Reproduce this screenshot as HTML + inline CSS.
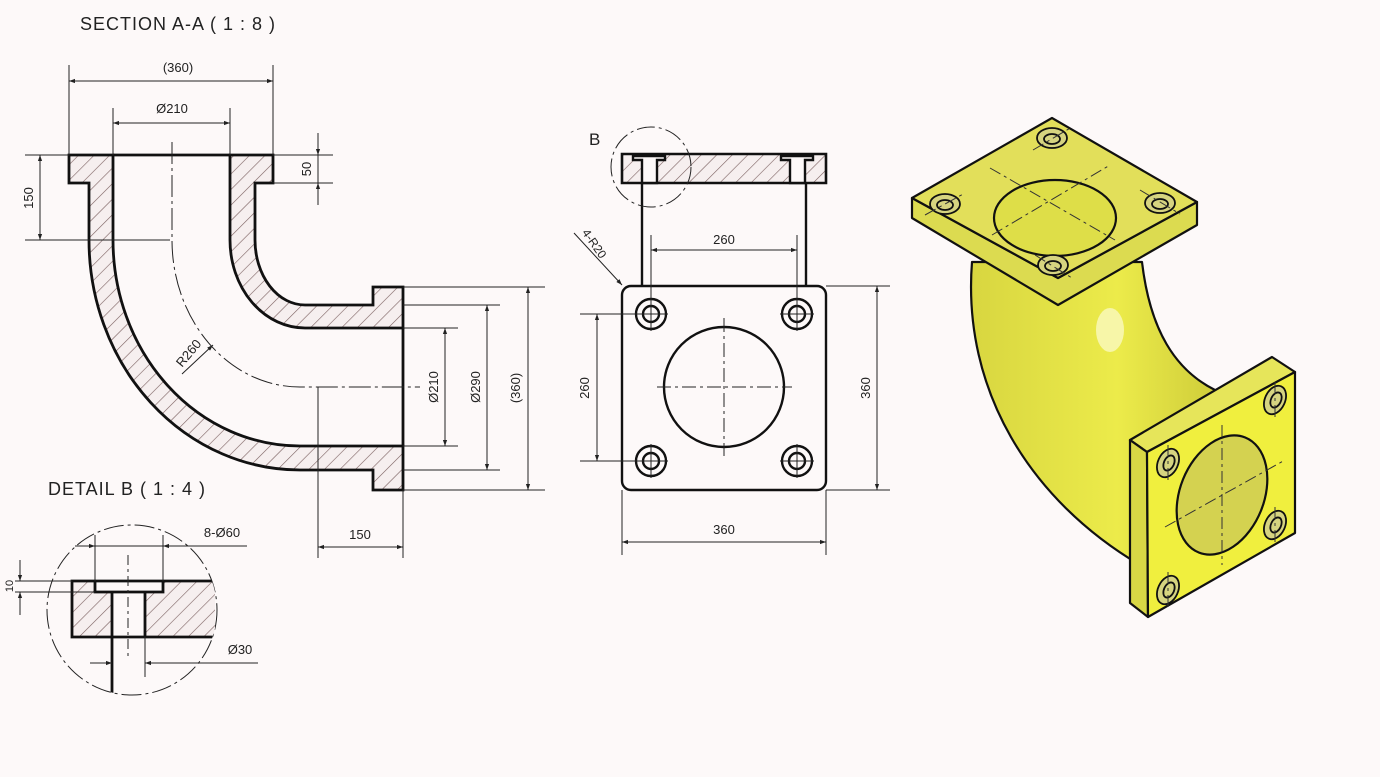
<!DOCTYPE html>
<html><head><meta charset="utf-8"><style>
html,body{margin:0;padding:0;background:#fdf9f9;}
svg{display:block}
text{font-family:"Liberation Sans",sans-serif;fill:#222}
</style></head><body>
<svg width="1380" height="777" viewBox="0 0 1380 777" xmlns="http://www.w3.org/2000/svg">
<defs>
<pattern id="h" patternUnits="userSpaceOnUse" width="11" height="11" patternTransform="rotate(45)">
<rect width="11" height="11" fill="#f6efef"/>
<line x1="0" y1="0" x2="0" y2="11" stroke="#7a5f5f" stroke-width="1.2"/>
</pattern>
<marker id="a" viewBox="0 0 10 10" refX="10" refY="5" markerWidth="9" markerHeight="6" orient="auto-start-reverse" markerUnits="userSpaceOnUse"><path d="M0,1.5 L10,5 L0,8.5z" fill="#222"/></marker>
<linearGradient id="y" x1="0" y1="0" x2="1" y2="0"><stop offset="0" stop-color="#d8d640"/><stop offset="0.6" stop-color="#eceb4a"/><stop offset="1" stop-color="#cfcd3a"/></linearGradient>
</defs>
<rect width="1380" height="777" fill="#fdf9f9"/>

<text x="80" y="30" font-size="18" letter-spacing="1">SECTION A-A ( 1 : 8 )</text>
<text x="48" y="495" font-size="18" letter-spacing="1">DETAIL B ( 1 : 4 )</text>

<!-- Section A-A -->
<g stroke="#111" stroke-width="2.8" stroke-linejoin="miter">
<path d="M69,155 L113,155 L113,240 A187,206 0 0 0 300,446 L403,446 L403,490 L373,490 L373,470 L300,470 A211,230 0 0 1 89,240 L89,183 L69,183 Z" fill="url(#h)"/>
<path d="M230,155 L273,155 L273,183 L255,183 L255,240 A50,65 0 0 0 305,305 L373,305 L373,287 L403,287 L403,328 L305,328 A75,88 0 0 1 230,240 Z" fill="url(#h)"/>
<line x1="113" y1="155" x2="230" y2="155"/>
<line x1="403" y1="328" x2="403" y2="446"/>
</g>
<g stroke="#222" stroke-width="1" fill="none">
<path d="M172,142 L172,240 A128,147 0 0 0 300,387 L420,387" stroke-dasharray="22,4,3,4"/>
<!-- dims -->
<line x1="69" y1="65" x2="69" y2="155"/><line x1="273" y1="65" x2="273" y2="155"/>
<line x1="69" y1="81" x2="273" y2="81" marker-start="url(#a)" marker-end="url(#a)"/>
<line x1="113" y1="108" x2="113" y2="155"/><line x1="230" y1="108" x2="230" y2="155"/>
<line x1="113" y1="123" x2="230" y2="123" marker-start="url(#a)" marker-end="url(#a)"/>
<line x1="25" y1="155" x2="69" y2="155"/><line x1="25" y1="240" x2="170" y2="240"/>
<line x1="40" y1="155" x2="40" y2="240" marker-start="url(#a)" marker-end="url(#a)"/>
<line x1="273" y1="155" x2="333" y2="155"/><line x1="273" y1="183" x2="333" y2="183"/>
<line x1="318" y1="133" x2="318" y2="155" marker-end="url(#a)"/><line x1="318" y1="205" x2="318" y2="183" marker-end="url(#a)"/>
<line x1="318" y1="155" x2="318" y2="183"/>
<line x1="403" y1="287" x2="545" y2="287"/><line x1="403" y1="490" x2="545" y2="490"/>
<line x1="403" y1="305" x2="500" y2="305"/><line x1="403" y1="470" x2="500" y2="470"/>
<line x1="403" y1="328" x2="458" y2="328"/><line x1="403" y1="446" x2="458" y2="446"/>
<line x1="445" y1="328" x2="445" y2="446" marker-start="url(#a)" marker-end="url(#a)"/>
<line x1="487" y1="305" x2="487" y2="470" marker-start="url(#a)" marker-end="url(#a)"/>
<line x1="528" y1="287" x2="528" y2="490" marker-start="url(#a)" marker-end="url(#a)"/>
<line x1="318" y1="387" x2="318" y2="558"/><line x1="403" y1="490" x2="403" y2="558"/>
<line x1="318" y1="547" x2="403" y2="547" marker-start="url(#a)" marker-end="url(#a)"/>
<line x1="182" y1="374" x2="213" y2="345" marker-end="url(#a)"/>
</g>
<g font-size="13">
<text x="178" y="72" text-anchor="middle">(360)</text>
<text x="172" y="113" text-anchor="middle">Ø210</text>
<text transform="translate(33,198) rotate(-90)" text-anchor="middle">150</text>
<text transform="translate(311,169) rotate(-90)" text-anchor="middle">50</text>
<text transform="translate(438,387) rotate(-90)" text-anchor="middle">Ø210</text>
<text transform="translate(480,387) rotate(-90)" text-anchor="middle">Ø290</text>
<text transform="translate(520,388) rotate(-90)" text-anchor="middle">(360)</text>
<text x="360" y="539" text-anchor="middle">150</text>
<text transform="translate(192,356) rotate(-50)" text-anchor="middle">R260</text>
</g>

<!-- Detail B -->
<circle cx="132" cy="610" r="85" fill="none" stroke="#222" stroke-width="1" stroke-dasharray="20,4,3,4"/>
<clipPath id="cb"><circle cx="132" cy="610" r="85"/></clipPath>
<g clip-path="url(#cb)">
<path d="M72,581 L95,581 L95,592 L112,592 L112,637 L72,637Z" fill="url(#h)"/>
<path d="M163,581 L215,581 L215,637 L145,637 L145,592 L163,592Z" fill="url(#h)"/>
<g stroke="#111" stroke-width="2.8" fill="none">
<path d="M215,581 L72,581 L72,637 L215,637"/>
<path d="M95,581 L95,592 L163,592 L163,581"/>
<path d="M112,592 L112,700 M145,592 L145,637"/>
</g>
</g>
<g stroke="#222" stroke-width="1" fill="none">
<line x1="128" y1="555" x2="128" y2="660" stroke-dasharray="10,4,3,4"/>
<line x1="95" y1="535" x2="95" y2="581"/><line x1="163" y1="535" x2="163" y2="581"/>
<line x1="75" y1="546" x2="95" y2="546" marker-end="url(#a)"/><line x1="247" y1="546" x2="163" y2="546" marker-end="url(#a)"/>
<line x1="95" y1="546" x2="163" y2="546"/>
<line x1="145" y1="637" x2="145" y2="677"/>
<line x1="90" y1="663" x2="112" y2="663" marker-end="url(#a)"/><line x1="258" y1="663" x2="145" y2="663" marker-end="url(#a)"/>
<line x1="15" y1="581" x2="72" y2="581"/><line x1="15" y1="592" x2="95" y2="592"/>
<line x1="20" y1="560" x2="20" y2="581" marker-end="url(#a)"/><line x1="20" y1="615" x2="20" y2="592" marker-end="url(#a)"/>
</g>
<g font-size="13">
<text x="222" y="537" text-anchor="middle">8-Ø60</text>
<text x="240" y="654" text-anchor="middle">Ø30</text>
<text transform="translate(13,586) rotate(-90)" text-anchor="middle" font-size="11">10</text>
</g>

<!-- Middle view -->
<text x="589" y="145" font-size="17">B</text>
<path d="M622,154 L826,154 L826,183 L622,183Z" fill="url(#h)" stroke="#111" stroke-width="2.6"/>
<g stroke="#111" stroke-width="2.4" fill="#fdf9f9">
<path d="M633,156 L665,156 L665,160 L657,160 L657,183 L642,183 L642,160 L633,160Z"/>
<path d="M781,156 L813,156 L813,160 L805,160 L805,183 L790,183 L790,160 L781,160Z"/>
</g>
<g stroke="#111" stroke-width="2.4" fill="none">
<line x1="642" y1="183" x2="642" y2="286"/><line x1="806" y1="183" x2="806" y2="286"/>
<rect x="622" y="286" width="204" height="204" rx="9"/>
<circle cx="724" cy="387" r="60"/>
<circle cx="651" cy="314" r="15"/><circle cx="651" cy="314" r="8"/>
<circle cx="797" cy="314" r="15"/><circle cx="797" cy="314" r="8"/>
<circle cx="651" cy="461" r="15"/><circle cx="651" cy="461" r="8"/>
<circle cx="797" cy="461" r="15"/><circle cx="797" cy="461" r="8"/>
</g>
<g stroke="#222" stroke-width="1" fill="none">
<circle cx="651" cy="167" r="40" stroke-dasharray="18,4,3,4"/>
<line x1="655" y1="318" x2="655" y2="318"/>
<path d="M651,297 V331 M634,314 H668 M797,297 V331 M780,314 H814 M651,444 V478 M634,461 H668 M797,444 V478 M780,461 H814"/>
<path d="M724,318 V456 M657,387 H792" stroke-dasharray="14,4,3,4"/>
<line x1="651" y1="235" x2="651" y2="300"/><line x1="797" y1="235" x2="797" y2="300"/>
<line x1="651" y1="250" x2="797" y2="250" marker-start="url(#a)" marker-end="url(#a)"/>
<line x1="580" y1="314" x2="640" y2="314"/><line x1="580" y1="461" x2="640" y2="461"/>
<line x1="597" y1="314" x2="597" y2="461" marker-start="url(#a)" marker-end="url(#a)"/>
<line x1="826" y1="286" x2="890" y2="286"/><line x1="826" y1="490" x2="890" y2="490"/>
<line x1="877" y1="286" x2="877" y2="490" marker-start="url(#a)" marker-end="url(#a)"/>
<line x1="622" y1="490" x2="622" y2="555"/><line x1="826" y1="490" x2="826" y2="555"/>
<line x1="622" y1="542" x2="826" y2="542" marker-start="url(#a)" marker-end="url(#a)"/>
<line x1="574" y1="233" x2="622" y2="285" marker-end="url(#a)"/>
</g>
<g font-size="13">
<text x="724" y="244" text-anchor="middle">260</text>
<text transform="translate(589,388) rotate(-90)" text-anchor="middle">260</text>
<text transform="translate(870,388) rotate(-90)" text-anchor="middle">360</text>
<text x="724" y="534" text-anchor="middle">360</text>
<text transform="translate(591,246) rotate(55)" text-anchor="middle" font-size="12">4-R20</text>
</g>

<!-- 3D -->
<g stroke="#111" stroke-width="2.2" stroke-linejoin="round">
<path d="M972,262 C962,390 1030,500 1140,565 L1215,390 C1175,370 1150,330 1142,262 Z" fill="url(#y)"/>
<ellipse cx="1110" cy="330" rx="14" ry="22" fill="#f7f6a8" stroke="none"/>
<!-- top flange -->
<path d="M912,198 L912,218 L1058,305 L1197,225 L1197,202 L1058,278 Z" fill="#dcdb50"/>
<path d="M912,198 L1052,118 L1197,202 L1058,278 Z" fill="#e2df5a"/>
<ellipse cx="1055" cy="218" rx="61" ry="38" fill="#dede48"/>
<!-- bottom flange -->
<path d="M1130,440 L1272,357 L1295,372 L1147,452 Z" fill="#e6e55a"/>
<path d="M1130,440 L1147,452 L1148,617 L1130,603 Z" fill="#d8d745"/>
<path d="M1147,452 L1295,372 L1295,533 L1148,617 Z" fill="#f0ef3e"/>
<ellipse cx="1222" cy="495" rx="42" ry="62" transform="rotate(22 1222 495)" fill="#d4d250"/>
</g>
<g stroke="#111" stroke-width="1.8" fill="#d6d480">
<ellipse cx="945" cy="204" rx="15" ry="10"/><ellipse cx="945" cy="205" rx="8" ry="5"/>
<ellipse cx="1052" cy="138" rx="15" ry="10"/><ellipse cx="1052" cy="139" rx="8" ry="5"/>
<ellipse cx="1160" cy="203" rx="15" ry="10"/><ellipse cx="1160" cy="204" rx="8" ry="5"/>
<ellipse cx="1053" cy="265" rx="15" ry="10"/><ellipse cx="1053" cy="266" rx="8" ry="5"/>
<ellipse cx="1168" cy="463" rx="10" ry="15" transform="rotate(25 1168 463)"/><ellipse cx="1169" cy="463" rx="5" ry="8" transform="rotate(25 1169 463)"/>
<ellipse cx="1275" cy="400" rx="10" ry="15" transform="rotate(25 1275 400)"/><ellipse cx="1276" cy="400" rx="5" ry="8" transform="rotate(25 1276 400)"/>
<ellipse cx="1275" cy="525" rx="10" ry="15" transform="rotate(25 1275 525)"/><ellipse cx="1276" cy="525" rx="5" ry="8" transform="rotate(25 1276 525)"/>
<ellipse cx="1168" cy="590" rx="10" ry="15" transform="rotate(25 1168 590)"/><ellipse cx="1169" cy="590" rx="5" ry="8" transform="rotate(25 1169 590)"/>
</g>
<g stroke="#333" stroke-width="1" fill="none" stroke-dasharray="12,4,3,4">
<line x1="990" y1="168" x2="1115" y2="240"/><line x1="992" y1="235" x2="1110" y2="165"/>
<line x1="925" y1="215" x2="965" y2="193"/><line x1="1033" y1="150" x2="1072" y2="127"/>
<line x1="1140" y1="190" x2="1180" y2="214"/><line x1="1035" y1="255" x2="1072" y2="278"/>
<line x1="1222" y1="425" x2="1222" y2="565"/><line x1="1165" y1="527" x2="1285" y2="460"/>
<line x1="1168" y1="445" x2="1168" y2="480"/><line x1="1275" y1="382" x2="1275" y2="418"/>
<line x1="1275" y1="507" x2="1275" y2="543"/><line x1="1168" y1="572" x2="1168" y2="608"/>
</g>
</svg>
</body></html>
